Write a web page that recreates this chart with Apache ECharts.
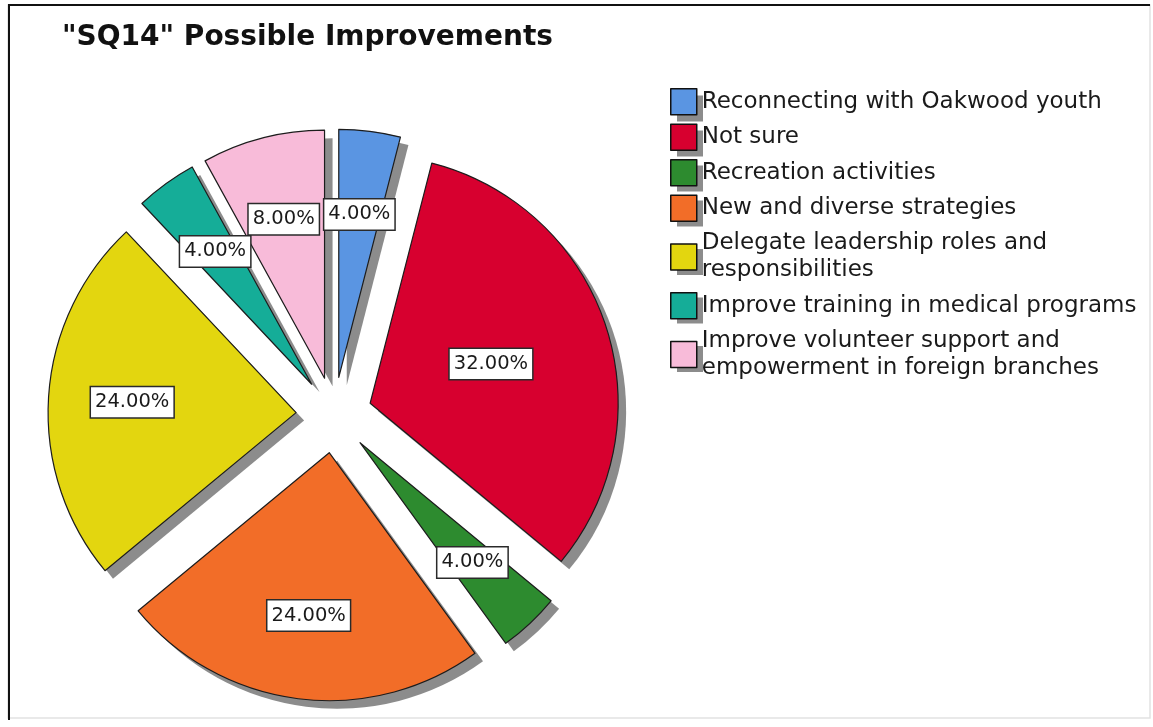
<!DOCTYPE html>
<html>
<head>
<meta charset="utf-8">
<title>"SQ14" Possible Improvements</title>
<script src="https://cdn.jsdelivr.net/npm/echarts@6/dist/echarts.min.js"></script>
<style>
  html, body { margin: 0; padding: 0; background: #ffffff; }
  #chart { width: 1153px; height: 727px; }
</style>
</head>
<body>
<div id="chart"></div>
<script>
// Survey question SQ14: responses per suggested improvement (25 respondents)
const categories = [
  'Reconnecting with Oakwood youth',
  'Not sure',
  'Recreation activities',
  'New and diverse strategies',
  'Delegate leadership roles and responsibilities',
  'Improve training in medical programs',
  'Improve volunteer support and empowerment in foreign branches'
];
const counts = [1, 8, 1, 6, 6, 1, 2];
const sliceColors = ['#5a95e2', '#d7002f', '#2d8b2f', '#f26d28', '#e3d60f', '#15ad98', '#f8bbd9'];

// Slices whose percentage label sits nearer the centre of the slice
const innerLabelSlices = ['Not sure'];

const CX = 334, CY = 415, R = 248, EXPLODE = 38;
const SHADOW_DX = 8, SHADOW_DY = 8;
const SHADOW_GREY = '#8c8c8c';
const FONT = 'DejaVu Sans, Verdana, sans-serif';

const pctFormatter = p => p.percent.toFixed(2) + '%';

const labelBox = {
  color: '#1a1a1a',
  fontFamily: FONT,
  fontSize: 19.5,
  backgroundColor: '#ffffff',
  borderColor: '#2a2a2a',
  borderWidth: 1.5,
  padding: [6, 4, 4, 4]
};

const sliceData = categories.map((name, i) => ({
  name,
  value: counts[i],
  selected: true,
  itemStyle: { color: sliceColors[i] },
  label: { show: innerLabelSlices.includes(name) }
}));

const outerLabelData = categories.map((name, i) => ({
  name,
  value: counts[i],
  selected: true,
  label: { show: !innerLabelSlices.includes(name) }
}));

const shadowData = categories.map((name, i) => ({
  name,
  value: counts[i],
  selected: true
}));

const pieBase = {
  type: 'pie',
  startAngle: 90,
  clockwise: true,
  selectedMode: 'multiple',
  selectedOffset: EXPLODE,
  avoidLabelOverlap: false,
  labelLayout: { hideOverlap: false },
  labelLine: { show: false },
  emphasis: { disabled: true }
};

const legendText = {
  fontFamily: FONT,
  fontSize: 23,
  lineHeight: 27,
  color: '#1a1a1a',
  width: 442,
  overflow: 'break'
};

const legendBase = {
  orient: 'vertical',
  padding: 0,
  itemWidth: 26,
  itemHeight: 26,
  itemGap: 8,
  icon: 'rect',
  selectedMode: false,
  data: categories
};

const chart = echarts.init(document.getElementById('chart'), null, { renderer: 'canvas' });

chart.setOption({
  backgroundColor: '#ffffff',
  animation: false,
  title: {
    text: '"SQ14" Possible Improvements',
    left: 62,
    top: 24,
    padding: 0,
    textStyle: {
      fontFamily: FONT,
      fontWeight: 'bold',
      fontSize: 28,
      color: '#111111'
    }
  },
  graphic: [
    { type: 'rect', shape: { x: 8, y: 5, width: 1142, height: 713 },
      style: { fill: 'none', stroke: '#e2e2e2', lineWidth: 1.5 }, silent: true, z: -1 },
    { type: 'line', shape: { x1: 8, y1: 5, x2: 1150, y2: 5 },
      style: { stroke: '#111111', lineWidth: 2 }, silent: true },
    { type: 'line', shape: { x1: 9, y1: 5, x2: 9, y2: 720 },
      style: { stroke: '#111111', lineWidth: 2 }, silent: true }
  ],
  legend: [
    // drop shadow behind the legend swatches
    Object.assign({}, legendBase, {
      left: 670 + 7,
      top: 88 + 7,
      z: 3,
      itemStyle: { color: SHADOW_GREY, borderWidth: 0 },
      textStyle: Object.assign({}, legendText, { color: 'rgba(0,0,0,0)' })
    }),
    Object.assign({}, legendBase, {
      left: 670,
      top: 88,
      z: 4,
      itemStyle: { borderColor: '#111111', borderWidth: 1.5 },
      textStyle: legendText
    })
  ],
  series: [
    Object.assign({}, pieBase, {
      name: 'SQ14',
      center: [CX, CY],
      radius: [0, R],
      z: 2,
      itemStyle: { borderColor: '#1c1c1c', borderWidth: 1.2 },
      select: { itemStyle: { borderColor: '#1c1c1c', borderWidth: 1.2 } },
      label: Object.assign({ position: 'inside', formatter: pctFormatter }, labelBox),
      data: sliceData
    }),
    Object.assign({}, pieBase, {
      // transparent copy of the slices that carries the outer percentage labels
      name: 'SQ14 labels',
      center: [CX, CY],
      radius: [0, R * 1.3],
      z: 3,
      silent: true,
      itemStyle: { color: 'rgba(0,0,0,0)', borderWidth: 0 },
      select: { itemStyle: { color: 'rgba(0,0,0,0)', borderWidth: 0 } },
      label: Object.assign({ position: 'inside', formatter: pctFormatter }, labelBox),
      data: outerLabelData
    }),
    Object.assign({}, pieBase, {
      // grey drop shadow under the exploded slices
      name: 'SQ14 shadow',
      center: [CX + SHADOW_DX, CY + SHADOW_DY],
      radius: [0, R],
      z: 1,
      silent: true,
      itemStyle: { color: SHADOW_GREY, borderWidth: 0 },
      select: { itemStyle: { color: SHADOW_GREY, borderWidth: 0 } },
      label: { show: false },
      data: shadowData
    })
  ]
});
</script>
</body>
</html>
